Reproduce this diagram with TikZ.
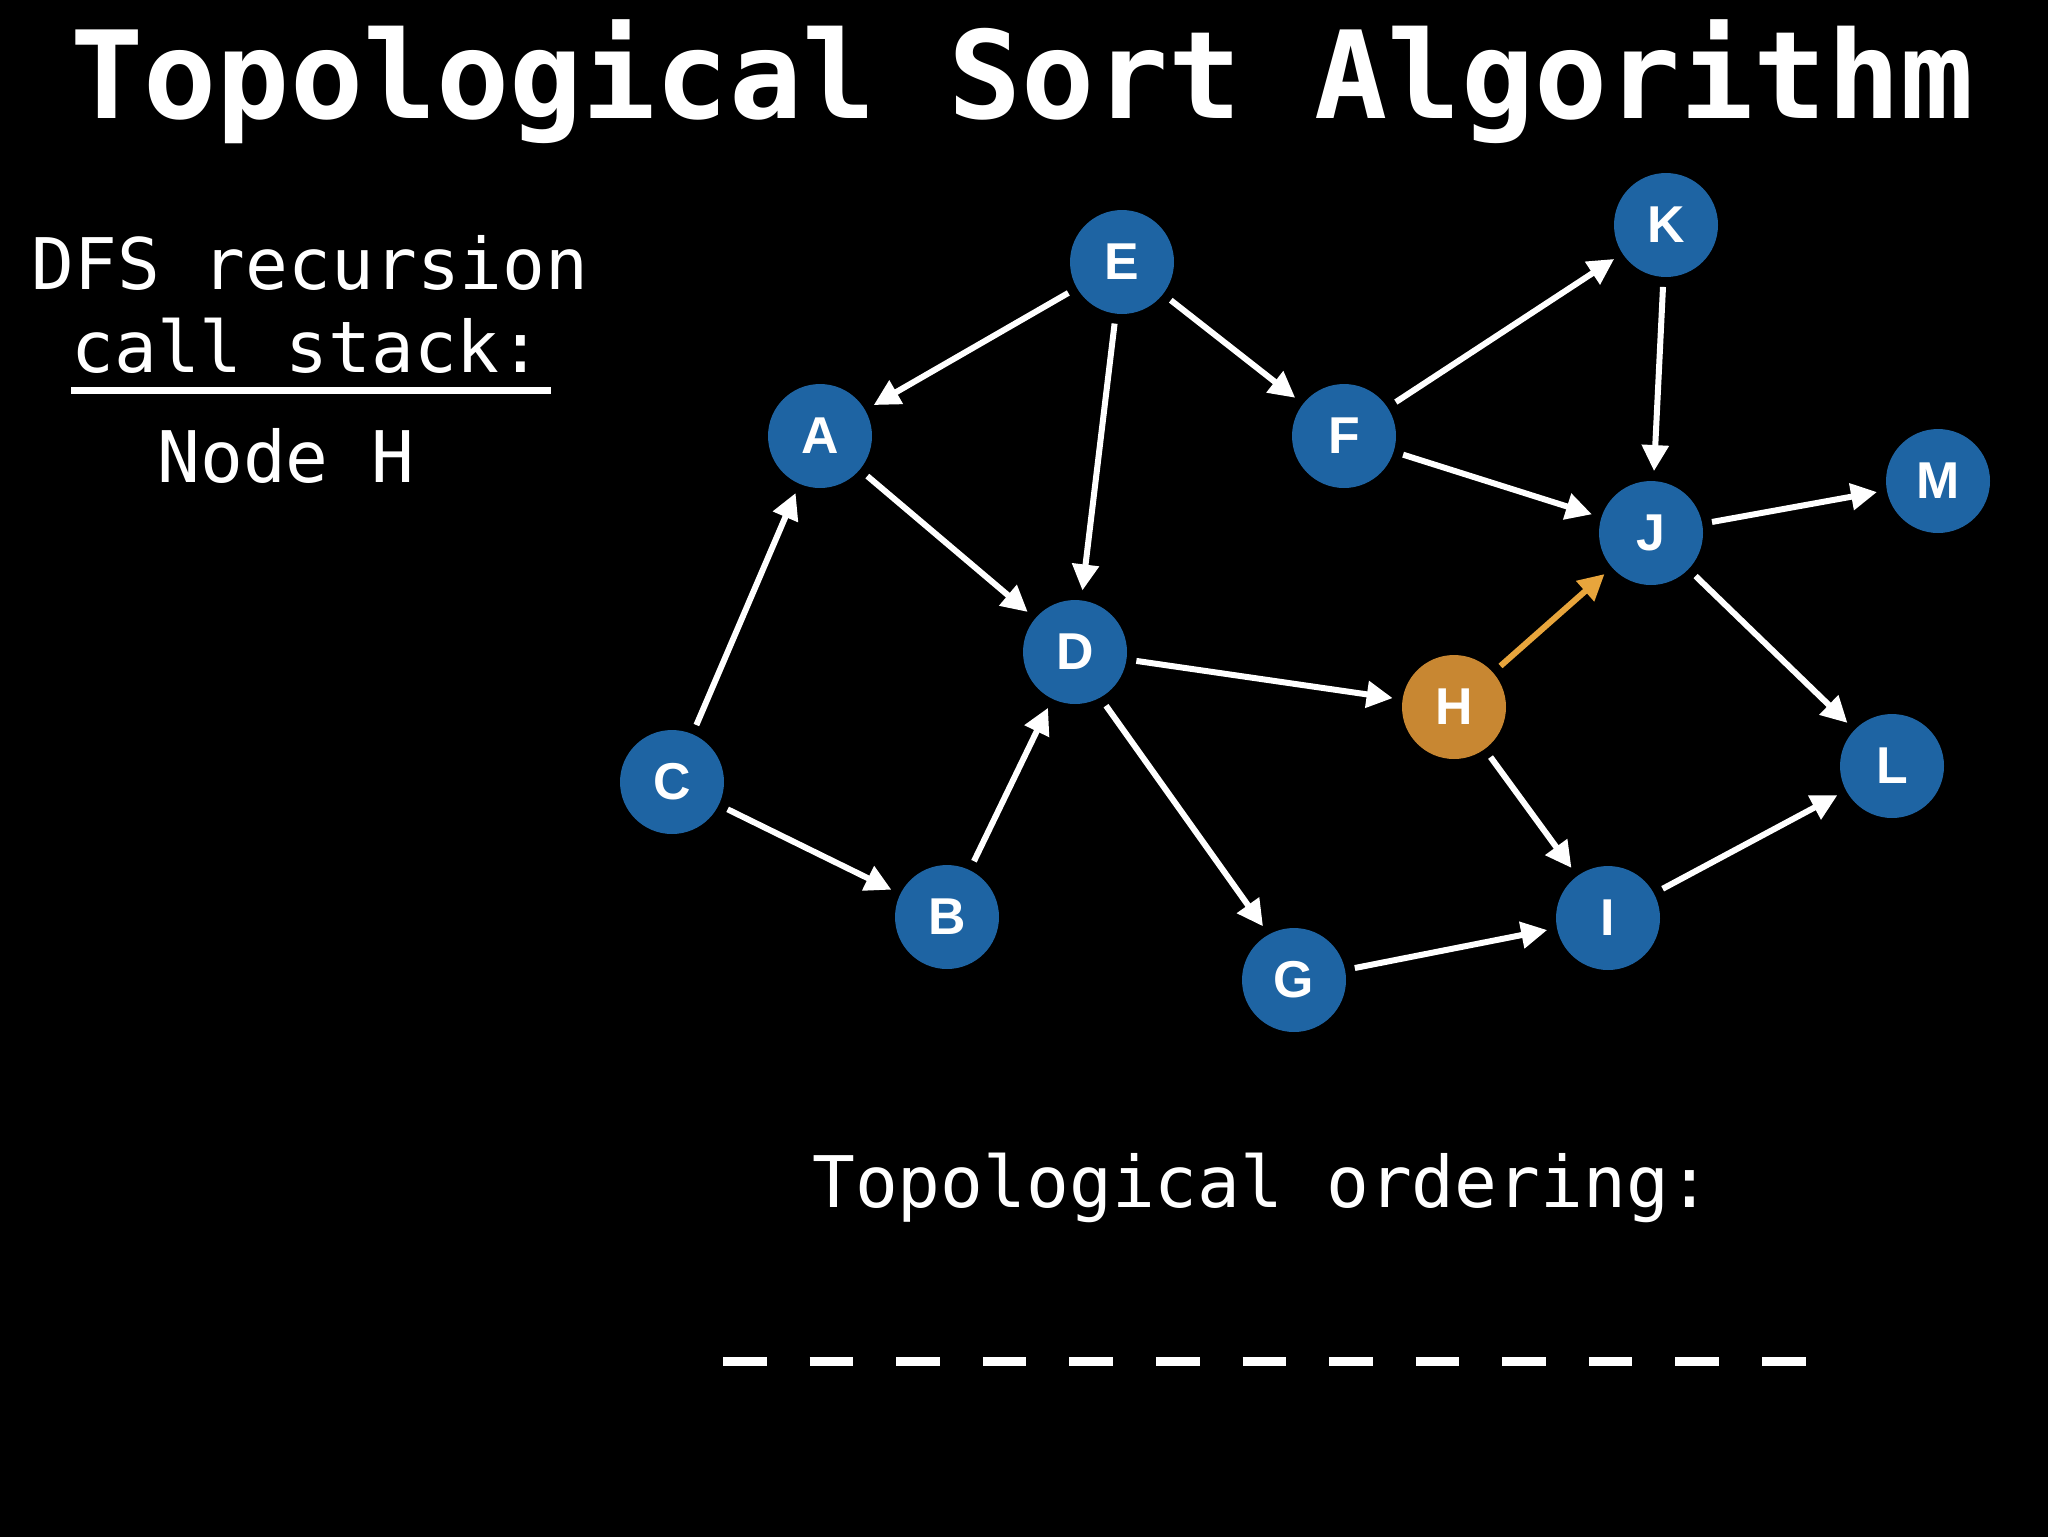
\documentclass[tikz,border=0pt]{standalone}
\usepackage{fontspec}
\setmonofont{DejaVu Sans Mono}
\newfontfamily\nodefont{Liberation Sans}
\usetikzlibrary{arrows.meta}
\definecolor{nodeblue}{RGB}{30,100,163}
\definecolor{nodeorange}{RGB}{200,135,50}
\definecolor{edgeorange}{RGB}{232,165,60}
\begin{document}
\begin{tikzpicture}[x=0.02cm,y=-0.02cm,
  vert/.style={circle, fill=nodeblue, minimum size=2.08cm, inner sep=0pt, outer sep=0.2cm,
    text=white, font=\nodefont\bfseries\fontsize{29.5}{30}\selectfont},
  hot/.style={vert, fill=nodeorange},
  edge/.style={draw=white, line width=0.12cm, -{Triangle[length=0.52cm,width=0.52cm]}},
  hotedge/.style={edge, draw=edgeorange, -{Triangle[length=0.52cm,width=0.52cm,fill=edgeorange]}},
  label/.style={text=white, font=\ttfamily\fontsize{40.5}{48}\selectfont, inner sep=0pt, anchor=base},
  titletext/.style={text=white, font=\ttfamily\bfseries\fontsize{69.2}{80}\selectfont, inner sep=0pt, anchor=base}
]
\useasboundingbox (0,0) rectangle (2048,1536);
\fill[black] (-20,-20) rectangle (2068,1556);

\node[titletext] (title) at (1022,118) {Topological Sort Algorithm};

\node[label] (dfs) at (310,289) {DFS recursion};
\node[label] (cs) at (307,372) {call stack:};
\coordinate (ulA) at (71,390);
\coordinate (ulB) at (551,390);
\draw[white, line width=0.14cm] (ulA) -- (ulB);
\node[label] (stack) at (286,482) {Node H};

\node[label] (ord) at (1262,1207) {Topological ordering:};
\coordinate (dA) at (723,1361.5);
\coordinate (dB) at (1806,1361.5);
\draw[white, line width=0.18cm, dash pattern=on 0.872cm off 0.86cm] (dA) -- (dB);

\node[vert] (E) at (1122,262) {E};
\node[vert] (A) at (820,436) {A};
\node[vert] (F) at (1344,436) {F};
\node[vert] (K) at (1666,225) {K};
\node[vert] (M) at (1938,481) {M};
\node[vert] (J) at (1651,533) {J};
\node[vert] (D) at (1075,652) {D};
\node[hot]  (H) at (1454,707) {H};
\node[vert] (C) at (672,782) {C};
\node[vert] (L) at (1892,766) {L};
\node[vert] (B) at (947,917) {B};
\node[vert] (I) at (1608,918) {I};
\node[vert] (G) at (1294,980) {G};

\draw[edge] (E) -- (A);
\draw[edge] (E) -- (D);
\draw[edge] (E) -- (F);
\draw[edge] (A) -- (D);
\draw[edge] (C) -- (A);
\draw[edge] (C) -- (B);
\draw[edge] (B) -- (D);
\draw[edge] (D) -- (H);
\draw[edge] (D.-60) -- (G.120);
\draw[edge] (F) -- (K);
\draw[edge] (F) -- (J);
\draw[edge] (K) -- (J);
\draw[edge] (J) -- (M);
\draw[edge] (J) -- (L);
\draw[hotedge] (H) -- (J);
\draw[edge] (H) -- (I);
\draw[edge] (G) -- (I);
\draw[edge] (I) -- (L);
\end{tikzpicture}
\end{document}
